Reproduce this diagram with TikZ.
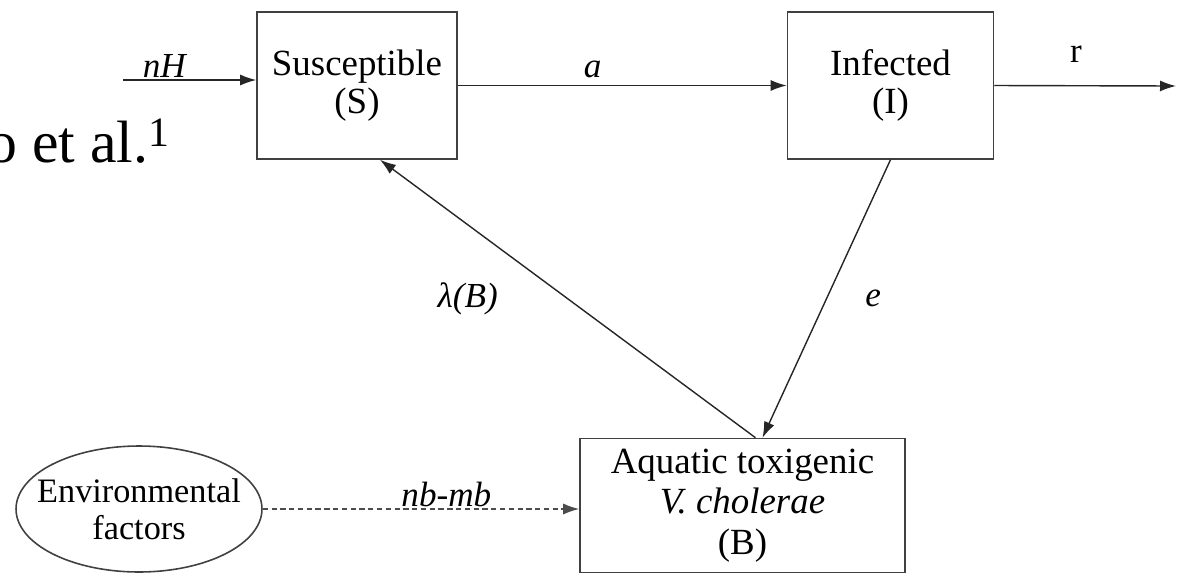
\documentclass[tikz,border=0pt]{standalone}
\usepackage{fontspec}
\setmainfont{Liberation Serif}
\usetikzlibrary{arrows.meta}
\usetikzlibrary{positioning}
\usetikzlibrary{shapes, shapes.geometric}

\begin{document}
\begin{tikzpicture}[
        x=0.02cm, y=-0.02cm,
        node distance=6.58cm,
        box/.style={rectangle, draw=black!75, line width=0.9pt, align=center, font=\fontsize{21}{21.5}\selectfont},
        lbl/.style={font=\fontsize{20}{22}\selectfont\itshape, inner sep=1pt},
        arrow/.style={-{Latex[length=0.32cm, width=0.22cm]}, line width=0.8pt, draw=black!85}
    ]
    \useasboundingbox (0,0) rectangle (1178,576);

    % Cut-off caption on the left
    \node[anchor=base west, inner sep=0pt, font=\fontsize{34}{36}\selectfont] (cap) at (-13,162) {o et al.\textsuperscript{1}};

    % Compartments
    \node[box, minimum width=4cm, minimum height=2.94cm] (S) at (357,85.5) {Susceptible\\(S)};
    \node[box, minimum width=4.12cm, minimum height=2.94cm, right=of S] (I) {Infected\\(I)};
    \node[box, minimum width=6.5cm, minimum height=2.68cm, font=\fontsize{21}{23}\selectfont] (B) at (742.5,505.5) {Aquatic toxigenic\\\textit{V. cholerae}\\(B)};

    % Environment
    \node[ellipse, draw=black!75, line width=0.9pt, minimum width=4.92cm, minimum height=2.52cm] (env) at (139,509) {};
    \node[align=center, font=\fontsize{19.5}{21}\selectfont] (envtxt) at (env) {Environmental\\factors};

    % Free ends
    \coordinate (nHin) at (123,80);
    \coordinate (rout) at (1176,86);

    % Arrows
    \draw[arrow] (nHin) -- node[lbl, above, pos=0.31] {nH} (nHin -| S.west);
    \draw[arrow] (S.east) -- node[lbl, above=3pt, pos=0.41] {a} (I.west);
    \draw[arrow] (I.east) -- node[lbl, above=12pt, pos=0.45, font=\fontsize{20}{22}\selectfont] {r} (rout);
    \draw[arrow] ([xshift=0.26cm]B.north) -- node[lbl, left=1.35cm] {λ(B)} ([xshift=0.46cm]S.south);
    \draw[arrow] (I.south) -- node[lbl, right=0.73cm] {e} ([xshift=0.4cm]B.north);

    % Environmental input (dashed)
    \draw[arrow, draw=black!70, dash pattern=on 3pt off 2pt] (env.east) -- node[lbl, above, pos=0.58] {nb-mb} (env.east -| B.west);

\end{tikzpicture}
\end{document}
